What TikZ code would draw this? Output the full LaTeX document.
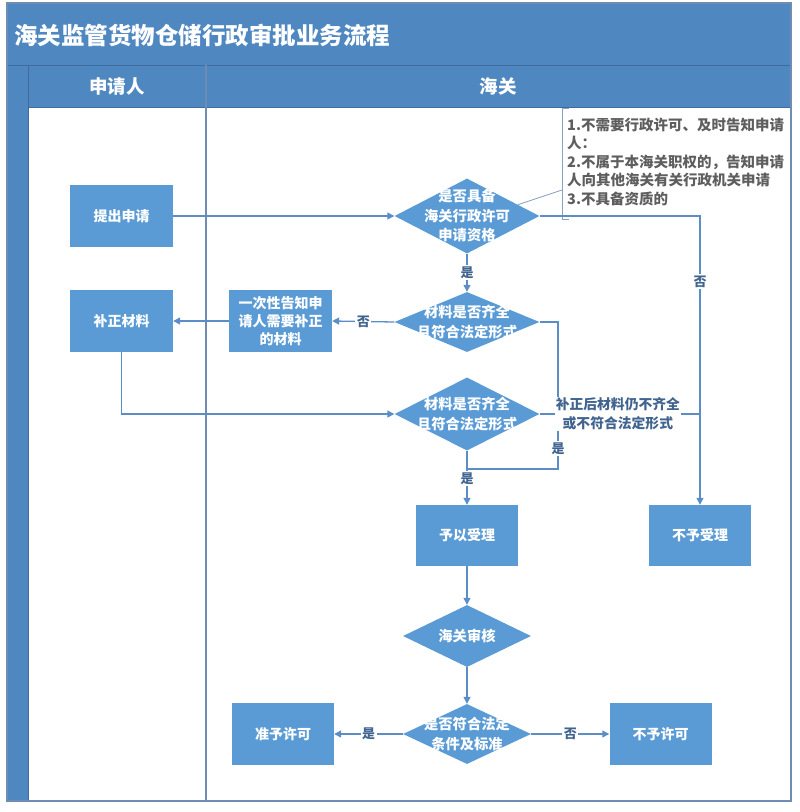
\documentclass[tikz,border=0pt]{standalone}
\usepackage{fontspec}
\setmainfont{Noto Sans CJK SC}
\usetikzlibrary{shapes.geometric,arrows.meta,calc}
\definecolor{bandblue}{HTML}{4F87C0}
\definecolor{boxblue}{HTML}{5B9BD5}
\definecolor{lineblue}{HTML}{5B8DC6}
\definecolor{lblblue}{HTML}{41648F}
\definecolor{darkline}{HTML}{3F6C9C}
\definecolor{frameline}{HTML}{6F8DB3}
\definecolor{notegray}{HTML}{5E5E5E}
\definecolor{brkline}{HTML}{8AA3C4}
\begin{document}
\begin{tikzpicture}[x=1pt,y=-1pt,
  stepbox/.style={rectangle, fill=boxblue, text=white, font=\bfseries\fontsize{14}{18}\selectfont, align=center, inner sep=0pt, minimum width=103pt, minimum height=62pt},
  dia/.style={diamond, fill=boxblue, inner sep=0pt},
  dtext/.style={text=white, font=\bfseries\fontsize{14.3}{19.5}\selectfont, align=center, inner sep=0pt},
  conn/.style={draw=lineblue, line width=1.3pt},
  arr/.style={conn, -{Triangle[length=7pt,width=7pt]}},
  lbl/.style={fill=white, text=lblblue, font=\bfseries\fontsize{13}{15}\selectfont, inner sep=1.5pt},
  lbltwo/.style={fill=white, text=lblblue, font=\bfseries\fontsize{13.8}{19}\selectfont, align=center, inner sep=1pt},
  notestyle/.style={text=notegray, font=\bfseries\fontsize{14.5}{18.5}\selectfont, align=left, inner sep=0pt, text width=228pt},
  hdr/.style={text=white, font=\bfseries\fontsize{18.5}{20}\selectfont, inner sep=0pt}
]
\useasboundingbox (0,0) rectangle (800,812);
% lanes frame
\fill[bandblue] (7,3) rectangle (791,107);
\fill[bandblue] (7,107) rectangle (28,801);
\draw[darkline, line width=1pt] (7,65) -- (791,65);
\draw[darkline, line width=0.8pt] (28,65) -- (28,801);
\draw[darkline, line width=0.8pt] (28,107) -- (791,107);
\draw[frameline, line width=1.5pt] (206,65) -- (206,801);
\draw[frameline, line width=1.5pt] (7,3) rectangle (791,801);
\node[hdr, anchor=west, font=\bfseries\fontsize{23.5}{25}\selectfont] (title) at (14,35) {海关监管货物仓储行政审批业务流程};
\node[hdr] (lane1) at (117,86) {申请人};
\node[hdr] (lane2) at (498,86) {海关};

% boxes
\node[stepbox] (b1) at (121.5,216) {提出申请};
\node[stepbox] (b2) at (121.5,321) {补正材料};
\node[stepbox] (b3) at (280.5,321) {一次性告知申\\请人需要补正\\的材料};
\node[stepbox, minimum width=102pt, minimum height=61pt] (b4) at (700,535.5) {不予受理};
\node[stepbox, minimum width=102pt, minimum height=61pt] (b5) at (467,535.5) {予以受理};
\node[stepbox, minimum width=102pt] (b6) at (283,734) {准予许可};
\node[stepbox, minimum width=102pt] (b7) at (660.5,734) {不予许可};

% diamonds
\node[dia, minimum width=145pt, minimum height=75pt] (d1) at (467,216) {};
\node[dtext] at (d1) {是否具备\\海关行政许可\\申请资格};
\node[dia, minimum width=145pt, minimum height=60pt] (d2) at (467,322) {};
\node[dtext] at (d2) {材料是否齐全\\且符合法定形式};
\node[dia, minimum width=145pt, minimum height=73pt] (d3) at (467,414) {};
\node[dtext] at (d3) {材料是否齐全\\且符合法定形式};
\node[dia, minimum width=128pt, minimum height=62pt] (d4) at (467,636) {};
\node[dtext] at (d4) {海关审核};
\node[dia, minimum width=128pt, minimum height=60pt] (d5) at (467,734) {};
\node[dtext] at (d5) {是否符合法定\\条件及标准};

% annotation
\node[notestyle, anchor=north west] (note) at (567,117.5) {1.不需要行政许可、及时告知申请\\人：\\2.不属于本海关职权的，告知申请\\人向其他海关有关行政机关申请\\3.不具备资质的};
\coordinate (bt) at (562,108);
\coordinate (bb) at (562,219);
\coordinate (bm) at (562,190);
\draw[brkline, line width=0.9pt] ($(bt)+(7,0)$) -- (bt) -- (bb) -- ($(bb)+(7,0)$);
\draw[brkline, line width=0.9pt] ($(d1.east)!0.3!(d1.north)$) -- (bm);

% connectors
\draw[arr] (b1.east) -- (d1.west);
\draw[arr] (d1.south) -- node[lbl]{是} (d2.north);
\draw[arr] (d1.east) -| node[lbl, pos=0.614]{否} (b4.north);
\draw[arr] (d2.west) -- node[lbl]{否} (b3.east);
\draw[arr] (b3.west) -- (b2.east);
\draw[arr] (b2.south) |- (d3.west);
\coordinate (c1) at (558,469);
\coordinate (j) at (467,469);
\draw[conn] (d2.east) -| node[lbl, pos=0.93]{是} (c1) -- (j);
\draw[arr] (d3.south) -- node[lbl, pos=0.52]{是} (b5.north);
\draw[conn] (d3.east) -- node[lbltwo, xshift=-2pt]{补正后材料仍不齐全\\或不符合法定形式} (d3.east -| b4.north);
\draw[arr] (b5.south) -- (d4.north);
\draw[arr] (d4.south) -- (d5.north);
\draw[arr] (d5.west) -- node[lbl]{是} (b6.east);
\draw[arr] (d5.east) -- node[lbl]{否} (b7.west);
\end{tikzpicture}
\end{document}
